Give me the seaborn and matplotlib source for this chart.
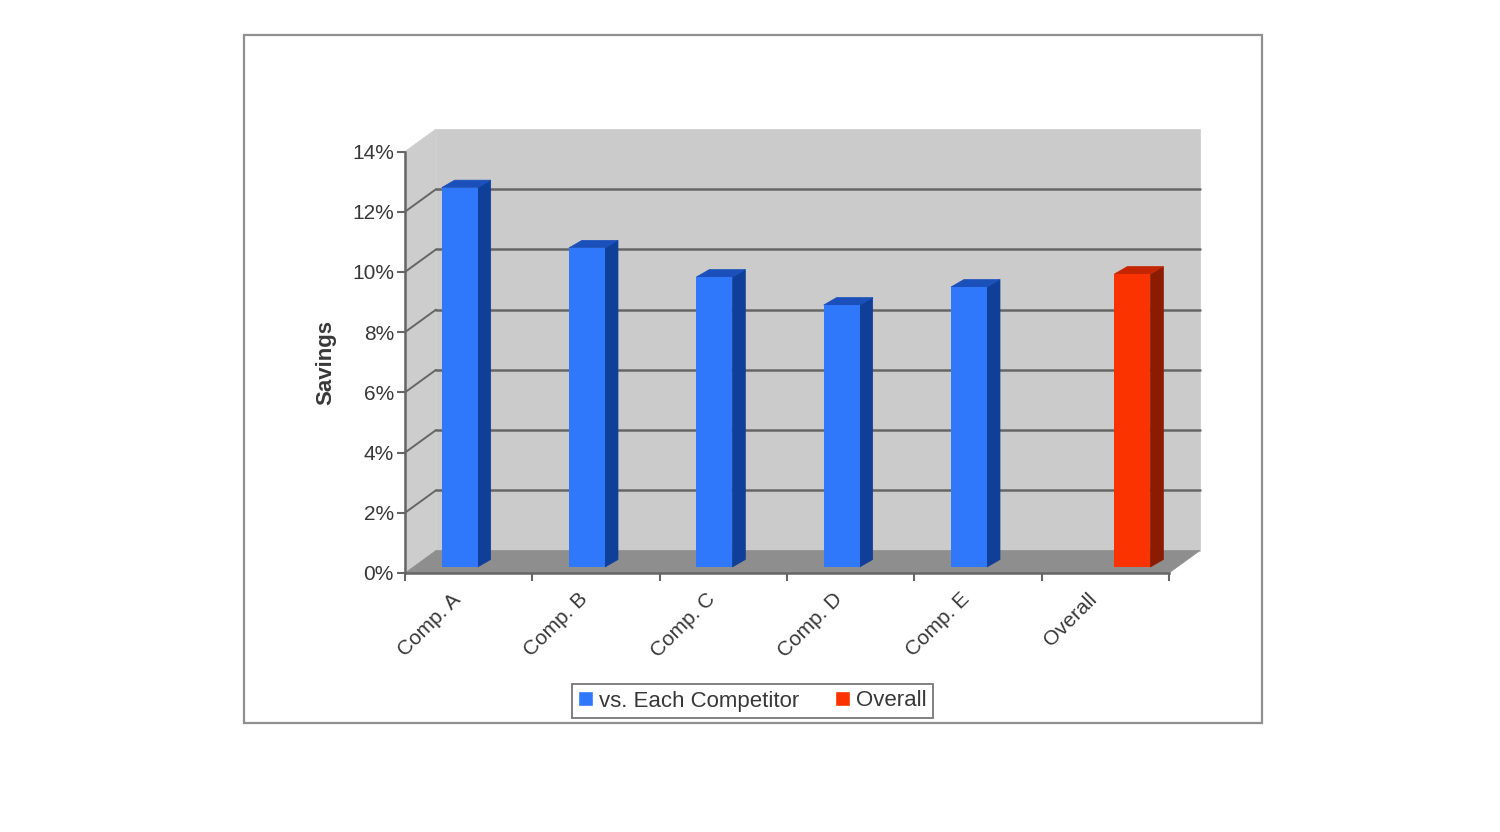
"""Savings against each competitor, drawn as a faux-3D Excel style column chart."""

import matplotlib.pyplot as plt
import numpy as np
import pandas as pd
import seaborn as sns
from matplotlib.patches import Polygon, Rectangle
from matplotlib.transforms import Affine2D, IdentityTransform

COMPETITORS = ["Comp. A", "Comp. B", "Comp. C", "Comp. D", "Comp. E", "Overall"]
SERIES = ["vs. Each Competitor", "vs. Each Competitor", "vs. Each Competitor",
          "vs. Each Competitor", "vs. Each Competitor", "Overall"]
SAVINGS = [12.6, 10.6, 9.63, 8.7, 9.3, 9.73]
Y_TICKS = [0, 2, 4, 6, 8, 10, 12, 14]

FRONT = {"vs. Each Competitor": "#2f78fb", "Overall": "#fb3300"}
SIDE = {"vs. Each Competitor": "#0f3f98", "Overall": "#8c1c00"}
TOP = {"vs. Each Competitor": "#1b50bb", "Overall": "#c42600"}

W, H = 1500, 832
DEPTH = np.array([31, 22.5])      # wall depth, pixels
BAR_SHIFT = np.array([9, 6])      # bars stand a little behind the front edge
BAR_DEPTH = np.array([13, 7.5])
LABEL_SHIFT = -18                 # rotated labels sit left of the category centre
LINE = "#666666"
TEXT = "#383838"

sns.set_style("white")
plt.rcParams["font.family"] = ["Liberation Sans", "DejaVu Sans"]

df = pd.DataFrame({"competitor": COMPETITORS, "series": SERIES, "savings": SAVINGS})

fig = plt.figure(figsize=(W / 100, H / 100), dpi=100)
ax = fig.add_axes([405 / W, (H - 573) / H, 764 / W, 421.5 / H])
ax.patch.set_visible(False)

sns.barplot(data=df, x="competitor", y="savings", hue="series", palette=FRONT,
            width=0.566, gap=0, dodge=True, saturation=1, ax=ax, zorder=5)
ax.set_xlim(-0.5, 5.5)
ax.set_ylim(0, 14)


def px(x, y):
    return ax.transData.transform((x, y))


def poly(points, color, zorder):
    ax.add_patch(Polygon(points, closed=True, facecolor=color, edgecolor=color, linewidth=0.5,
                         transform=IdentityTransform(), zorder=zorder, clip_on=False))


# walls and floor
x0, x1 = ax.get_xlim()
y0, y1 = ax.get_ylim()
poly([px(x0, y0) + DEPTH, px(x1, y0) + DEPTH, px(x1, y1) + DEPTH, px(x0, y1) + DEPTH], "#cbcbcb", 0)
poly([px(x0, y0), px(x0, y0) + DEPTH, px(x0, y1) + DEPTH, px(x0, y1)], "#cdcdcd", 0)
poly([px(x0, y0), px(x1, y0), px(x1, y0) + DEPTH, px(x0, y0) + DEPTH], "#8e8e8e", 1)

# gridlines run along the back wall and come forward over the left wall
for tick in Y_TICKS[1:-1]:
    left, right = px(x0, tick), px(x1, tick)
    ax.add_line(plt.Line2D(*zip(left, left + DEPTH), color=LINE, lw=1.4,
                           transform=IdentityTransform(), zorder=2, clip_on=False))
    ax.add_line(plt.Line2D(*zip(left + DEPTH, right + DEPTH), color=LINE, lw=1.8,
                           transform=IdentityTransform(), zorder=2, clip_on=False))

# move the bars back and give each one a side and a top
shift = ax.transData + Affine2D().translate(*BAR_SHIFT)
hue_of = dict(zip(COMPETITORS, SERIES))
bars = [b for b in ax.patches if isinstance(b, Rectangle) and b.get_height() > 0]
bars = sorted(bars, key=lambda b: b.get_x())
for bar, name in zip(bars, COMPETITORS):
    bar.set_transform(shift)
    bar.set_linewidth(0)
    (xa, ya), (xb, yb) = shift.transform([(bar.get_x(), 0),
                                          (bar.get_x() + bar.get_width(), bar.get_height())])
    low_r, top_r, top_l = np.array([xb, ya]), np.array([xb, yb]), np.array([xa, yb])
    series = hue_of[name]
    poly([low_r, low_r + BAR_DEPTH, top_r + BAR_DEPTH, top_r], SIDE[series], 4)
    poly([top_l, top_r, top_r + BAR_DEPTH, top_l + BAR_DEPTH], TOP[series], 4)

# axes
sns.despine(ax=ax, top=True, right=True)
for side in ("left", "bottom"):
    ax.spines[side].set_color(LINE)
    ax.spines[side].set_linewidth(1.8)
    ax.spines[side].set_zorder(3)

ax.set_yticks(Y_TICKS, [f"{t}%" for t in Y_TICKS])
ax.set_xticks(range(len(COMPETITORS)), COMPETITORS, rotation=45, ha="right",
              rotation_mode="anchor")
ax.set_xticks(np.arange(-0.5, len(COMPETITORS)), minor=True)
ax.tick_params(axis="x", which="major", length=0, pad=12, labelsize=15, labelcolor=TEXT)
ax.tick_params(axis="x", which="minor", length=6, width=1.5, color=LINE, bottom=True)
ax.tick_params(axis="y", length=6, width=1.5, color=LINE, left=True, pad=2,
               labelsize=15, labelcolor=TEXT)
for label in ax.get_xticklabels():
    label.set_transform(label.get_transform() + Affine2D().translate(LABEL_SHIFT, 0))
ax.set_xlabel("")
ax.set_ylabel("")
fig.text(326 / W, (H - 363) / H, "Savings", rotation=90, ha="center", va="center",
         fontsize=16, fontweight="bold", color=TEXT)

sns.move_legend(ax, "center", bbox_to_anchor=(752.5 / W, (H - 701) / H),
                bbox_transform=fig.transFigure, ncol=2, title=None, frameon=True,
                fancybox=False, edgecolor="#777777", framealpha=1, fontsize=16,
                handlelength=0.65, handleheight=0.65, handletextpad=0.3,
                columnspacing=1.6, borderpad=0.3, labelcolor=TEXT)
ax.get_legend().get_frame().set_linewidth(1.3)
ax.get_legend().set_zorder(6)

# outer chart frame
fig.add_artist(Rectangle((244 / W, (H - 723) / H), 1018 / W, 688 / H, fill=False,
                         edgecolor="#909090", linewidth=1.6, transform=fig.transFigure))

fig.savefig("out.png", dpi=100)
